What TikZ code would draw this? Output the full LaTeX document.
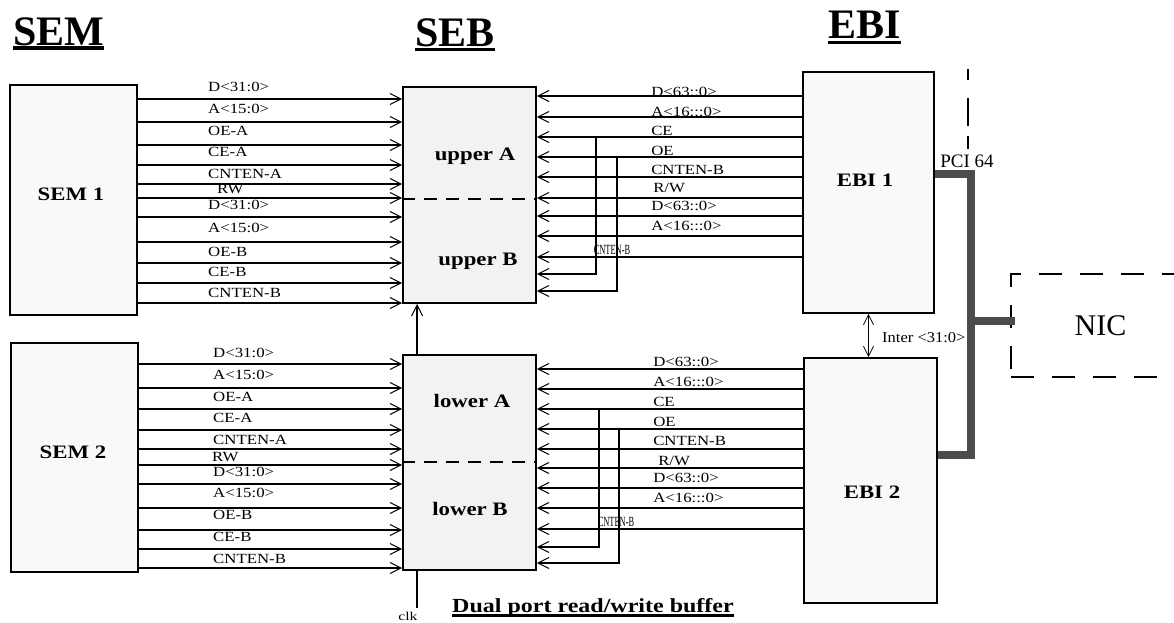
\documentclass[tikz,border=0pt]{standalone}
\usepackage{fontspec}
\setmainfont{Liberation Serif}
\usepackage{tikz}
\usetikzlibrary{arrows.meta}

% underline with own rule position: #1 top, #2 bottom (below baseline)
\newcommand{\ulbox}[3]{\setbox0\hbox{#3}\leavevmode\rlap{\vrule height #1 depth #2 width \wd0}\box0}

\begin{document}
\begin{tikzpicture}[x=1pt, y=-1pt,
    blk/.style={rectangle, draw, line width=1.8pt, fill=#1, inner sep=0pt},
    blk/.default=gray!5,
    ttl/.style={font=\fontsize{42}{44}\selectfont\bfseries, inner sep=0pt, anchor=base west},
    boxlbl/.style={font=\fontsize{19}{21}\selectfont\bfseries, inner sep=0pt, anchor=base, xscale=1.2},
    sig/.style={font=\fontsize{14}{15}\selectfont, inner sep=0pt, anchor=west, xscale=1.2},
    smallsig/.style={font=\fontsize{14}{15}\selectfont, inner sep=0pt, xscale=0.6},
    wire/.style={line width=1.5pt, -{Straight Barb[length=11pt, width=11pt, line width=1pt]}},
    inter/.style={line width=0.8pt, {Straight Barb[length=10pt, width=10pt]}-{Straight Barb[length=10pt, width=10pt]}},
    divide/.style={line width=1.8pt, dash pattern=on 13pt off 9pt},
    bus/.style={line width=8pt, color=black!70}
]
\useasboundingbox (0,0) rectangle (1174,622);
\clip (0,0) rectangle (1174,622);

% titles
\node[ttl] (semttl) at (13,45) {\ulbox{-1pt}{5pt}{SEM}};
\node[ttl] (sebttl) at (415,46) {\ulbox{-2pt}{5pt}{SEB}};
\node[ttl] (ebittl) at (828,38) {\ulbox{-2.5pt}{6pt}{EBI}};

% blocks
\node[blk, minimum width=127pt, minimum height=230pt] (sem1) at (73.5,200) {};
\node[blk, minimum width=127pt, minimum height=229pt] (sem2) at (74.5,457.5) {};
\node[blk=gray!10, minimum width=133pt, minimum height=216pt] (sebup) at (469.5,195) {};
\node[blk=gray!10, minimum width=133pt, minimum height=215pt] (seblo) at (469.5,462.5) {};
\node[blk, minimum width=131pt, minimum height=241pt] (ebi1) at (868.5,192.5) {};
\node[blk, minimum width=133pt, minimum height=245pt] (ebi2) at (870.5,480.5) {};
\node[draw, line width=1.6pt, dash pattern=on 23pt off 18pt, minimum width=179pt, minimum height=103pt, font=\fontsize{30}{32}\selectfont] (nic) at (1100.5,325.5) {NIC};

\node[boxlbl] (sem1lbl) at (71,200.5) {SEM 1};
\node[boxlbl] (sem2lbl) at (73,458) {SEM 2};
\node[boxlbl] (upalbl) at (475,160.5) {upper A};
\node[boxlbl] (upblbl) at (478,265) {upper B};
\node[boxlbl] (loalbl) at (472,407.5) {lower A};
\node[boxlbl] (loblbl) at (470,515) {lower B};
\node[boxlbl] (ebi1lbl) at (865,186.5) {EBI 1};
\node[boxlbl] (ebi2lbl) at (872,498) {EBI 2};

% A/B split
\draw[divide] (sebup.west |- 0,199) -- (sebup.east |- 0,199);
\draw[divide] (seblo.west |- 0,462) -- (seblo.east |- 0,462);

% SEM -> SEB
\foreach \y in {99,122,145,165,184,198,217,242,263,283,303}
  \draw[wire] (sem1.east |- 0,\y) -- (sebup.west |- 0,\y);
\foreach \y in {364,388,409,430,449,465,484,508,530,549,568}
  \draw[wire] (sem2.east |- 0,\y) -- (seblo.west |- 0,\y);

\foreach \x/\y/\t [count=\i] in {208/87/{D<31:0>}, 208/109/{A<15:0>}, 208/131/{OE-A}, 208/152/{CE-A}, 208/174/{CNTEN-A}, 217/189/{RW}, 208/205/{D<31:0>}, 208/228/{A<15:0>}, 208/252/{OE-B}, 208/272/{CE-B}, 208/293/{CNTEN-B}}
  \node[sig] (lu\i) at (\x,\y) {\t};
\foreach \x/\y/\t [count=\i] in {213/353/{D<31:0>}, 213/375/{A<15:0>}, 213/397/{OE-A}, 213/418/{CE-A}, 213/440/{CNTEN-A}, 212/457/{RW}, 213/472/{D<31:0>}, 213/493/{A<15:0>}, 213/515/{OE-B}, 213/537/{CE-B}, 213/559/{CNTEN-B}}
  \node[sig] (ll\i) at (\x,\y) {\t};

% EBI -> SEB
\foreach \y in {96,117,137,157,177,198,216,236,257}
  \draw[wire] (ebi1.west |- 0,\y) -- (sebup.east |- 0,\y);
\foreach \y in {369,389,409,429,449,468,488,508,529}
  \draw[wire] (ebi2.west |- 0,\y) -- (seblo.east |- 0,\y);

\coordinate (ceu) at (596,137);
\coordinate (oeu) at (617,157);
\coordinate (cel) at (599,409);
\coordinate (oel) at (619,429);
\draw[wire] (ceu) -- ++(0,137) -- (sebup.east |- 0,274);
\draw[wire] (oeu) -- ++(0,134) -- (sebup.east |- 0,291);
\draw[wire] (cel) -- ++(0,138) -- (seblo.east |- 0,547);
\draw[wire] (oel) -- ++(0,134) -- (seblo.east |- 0,563);

\foreach \x/\y/\t [count=\i] in {651/92/{D<63::0>}, 651/112/{A<16:::0>}, 651/131/{CE}, 651/151/{OE}, 651/170/{CNTEN-B}, 653/188/{R/W}, 651/206/{D<63::0>}, 651/226/{A<16:::0>}}
  \node[sig] (ru\i) at (\x,\y) {\t};
\foreach \x/\y/\t [count=\i] in {653/362/{D<63::0>}, 653/382/{A<16:::0>}, 653/402/{CE}, 653/422/{OE}, 653/441/{CNTEN-B}, 658/461/{R/W}, 653/478/{D<63::0>}, 653/498/{A<16:::0>}}
  \node[sig] (rl\i) at (\x,\y) {\t};
\node[smallsig] (cntu) at (612,250) {CNTEN-B};
\node[smallsig] (cntl) at (616,522) {CNTEN-B};

% lower -> upper, clock
\draw[wire] ([xshift=15pt]seblo.north west) -- ([xshift=15pt]sebup.south west);
\coordinate (clkend) at ([xshift=15pt, yshift=-37pt]seblo.south west);
\draw[line width=1.5pt] ([xshift=15pt]seblo.south west) -- (clkend);
\node[font=\fontsize{12}{13}\selectfont, inner sep=0pt, xscale=1.3] (clk) at (408,616) {clk};

% EBI 1 <-> EBI 2
\draw[inter] (ebi1.south) -- (ebi1.south |- ebi2.north);
\node[font=\fontsize{15}{16}\selectfont, inner sep=0pt, anchor=west, xscale=1.1] (interlbl) at (882,338) {Inter <31:0>};

% PCI bus
\coordinate (pcitop) at (971,174);
\coordinate (pcibot) at (971,455);
\coordinate (pcinic) at (971,321);
\draw[bus] (ebi1.east |- pcitop) -- (pcitop) -- (pcibot) -- (ebi2.east |- pcibot);
\draw[bus] (pcinic) -- ([xshift=5pt]nic.west |- pcinic);
\node[font=\fontsize{19}{20}\selectfont, inner sep=0pt] (pcilbl) at (967,161) {PCI 64};
\coordinate (pcidash) at (968,69);
\draw[line width=2pt, dash pattern=on 11pt off 18pt on 28pt off 10pt on 13pt off 100pt] (pcidash) -- ++(0,81);

\node[font=\fontsize{20}{22}\selectfont\bfseries, inner sep=0pt, anchor=base west, xscale=1.2] (buflbl) at (452,612) {\ulbox{-1.5pt}{4.5pt}{Dual port read/write buffer}};
\end{tikzpicture}
\end{document}
